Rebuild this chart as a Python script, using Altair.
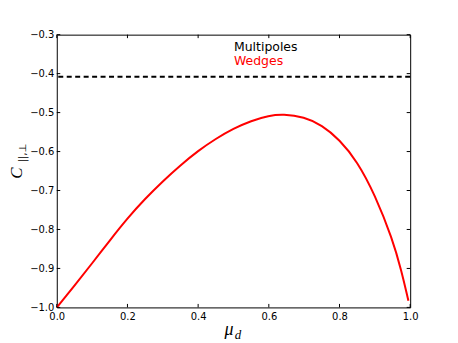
import altair as alt
import pandas as pd

# Data
mu_d = [0.0, 0.05, 0.1, 0.15, 0.2, 0.25, 0.3, 0.35, 0.4, 0.45, 0.5, 0.55, 0.6,
        0.64, 0.7, 0.75, 0.8, 0.85, 0.9, 0.95, 0.975, 0.995]
wedges = [-1.0, -0.944, -0.887, -0.828, -0.771, -0.721, -0.676, -0.635, -0.598,
          -0.567, -0.541, -0.521, -0.508, -0.504, -0.511, -0.532, -0.569, -0.625,
          -0.710, -0.825, -0.905, -0.983]
multipoles = -0.408
x_ticks = [0.0, 0.2, 0.4, 0.6, 0.8, 1.0]
y_ticks = [-1.0, -0.9, -0.8, -0.7, -0.6, -0.5, -0.4, -0.3]
legend_labels = ["Multipoles", "Wedges"]
legend_colors = ["black", "red"]

W, H = 355, 274
TL = 3.5

xs = alt.Scale(domain=[0, 1], nice=False, zero=False)
ys = alt.Scale(domain=[-1.0, -0.3], nice=False, zero=False)

xaxis = alt.Axis(values=x_ticks, ticks=False, domain=False, grid=False,
                 labelPadding=4, labelFont="DejaVu Sans", labelFontSize=10,
                 labelColor="black", format=".1f", title=None, labelFlush=False,
                 labelOverlap=False)
yaxis = alt.Axis(values=y_ticks, ticks=False, domain=False, grid=False,
                 labelPadding=3, labelFont="DejaVu Sans", labelFontSize=10,
                 labelColor="black", title=None, labelFlush=False,
                 labelOverlap=False,
                 labelExpr="replace(format(datum.value, '.1f'), '-', '\u2212')")

curve_df = pd.DataFrame({"mu": mu_d, "c": wedges})
curve = alt.Chart(curve_df).mark_line(color="red", strokeWidth=2,
                                      interpolate="basis").encode(
    x=alt.X("mu:Q", scale=xs, axis=xaxis),
    y=alt.Y("c:Q", scale=ys, axis=yaxis),
)

mp = alt.Chart(pd.DataFrame({"c": [multipoles]})).mark_rule(
    color="black", strokeWidth=2, strokeDash=[5, 3.5]).encode(
    y=alt.Y("c:Q", scale=ys, axis=yaxis))

xt = pd.DataFrame({"t": x_ticks})
yt = pd.DataFrame({"t": y_ticks})
tick_style = dict(color="black", strokeWidth=1)
xb = alt.Chart(xt).mark_rule(**tick_style).encode(
    x=alt.X("t:Q", scale=xs, axis=xaxis), y=alt.value(H), y2=alt.value(H - TL))
xtop = alt.Chart(xt).mark_rule(**tick_style).encode(
    x=alt.X("t:Q", scale=xs, axis=xaxis), y=alt.value(0), y2=alt.value(TL))
yl = alt.Chart(yt).mark_rule(**tick_style).encode(
    y=alt.Y("t:Q", scale=ys, axis=yaxis), x=alt.value(0), x2=alt.value(TL))
yr = alt.Chart(yt).mark_rule(**tick_style).encode(
    y=alt.Y("t:Q", scale=ys, axis=yaxis), x=alt.value(W), x2=alt.value(W - TL))

leg_df = pd.DataFrame({"label": legend_labels, "color": legend_colors,
                       "row": [0, 1]})
legend = alt.Chart(leg_df).transform_calculate(
    py="16 + datum.row * 14").mark_text(
    align="left", baseline="alphabetic", font="DejaVu Sans", fontSize=12.5).encode(
    x=alt.value(178),
    y=alt.Y("py:Q", scale=None, axis=None),
    text="label:N",
    color=alt.Color("color:N", scale=None),
)

one = pd.DataFrame({"a": [0]})
ytitle_c = alt.Chart(one).mark_text(
    text="C", font="Liberation Serif", fontStyle="italic", fontSize=17,
    angle=270, align="center", baseline="alphabetic").encode(
    x=alt.value(-35), y=alt.value(139))
ytitle_sub = alt.Chart(one).mark_text(
    text="||,\u22a5", font="DejaVu Sans", fontSize=10,
    angle=270, align="center", baseline="middle").encode(
    x=alt.value(-34), y=alt.value(119))
xtitle_mu = alt.Chart(one).mark_text(
    text="\u03bc", font="Liberation Serif", fontStyle="italic", fontSize=18,
    align="center", baseline="alphabetic").encode(
    x=alt.value(173), y=alt.value(302))
xtitle_d = alt.Chart(one).mark_text(
    text="d", font="Liberation Serif", fontStyle="italic", fontSize=13,
    align="center", baseline="alphabetic").encode(
    x=alt.value(182), y=alt.value(306))

chart = alt.layer(
    curve, mp, xb, xtop, yl, yr, legend, ytitle_c, ytitle_sub, xtitle_mu, xtitle_d
).properties(
    width=W, height=H,
    autosize=alt.AutoSizeParams(type="none"),
    padding={"left": 49, "top": 26, "right": 40, "bottom": 40},
).configure_view(stroke="black", strokeWidth=1)

chart.save("out.html", embed_options={"renderer": "svg", "actions": False})
